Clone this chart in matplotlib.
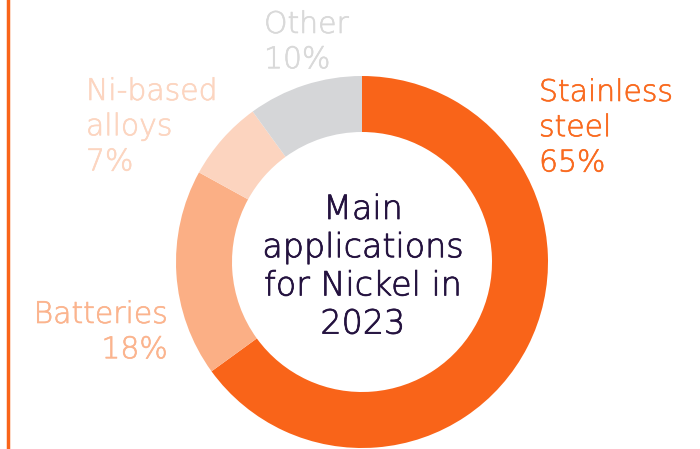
import matplotlib
matplotlib.use("Agg")
import matplotlib.pyplot as plt
import matplotlib.patheffects as pe
from matplotlib.lines import Line2D

categories = ["Stainless\nsteel", "Batteries", "Ni-based\nalloys", "Other"]
values = [65, 18, 7, 10]
colors = ["#F96419", "#FBAF85", "#FCD4BF", "#D5D6D8"]
label_colors = ["#F96A1F", "#FBB48E", "#FCD5C0", "#D9D9D9"]
center_title = "Main\napplications\nfor Nickel in\n2023"

W, H = 700, 449
fig = plt.figure(figsize=(7, 4.49), dpi=100)
ax = fig.add_axes([0, 0, 1, 1])

cx, cy, r = 362, H - 262, 186
ax.pie(values, colors=colors, startangle=90, counterclock=False,
       center=(cx, cy), radius=r, wedgeprops=dict(width=56, linewidth=0),
       frame=True)
ax.set_xlim(0, W)
ax.set_ylim(0, H)
ax.set_aspect("equal")
ax.axis("off")

fam = ["DejaVu Sans"]
fs = 21.5
ls = 1.27
fw = "light"

def y(v):
    return H - v

def thick(c, w=0.45):
    return [pe.withStroke(linewidth=w, foreground=c)]

ax.text(539, y(78), f"{categories[0]}\n{values[0]}%", color=label_colors[0],
        fontsize=fs, family=fam, fontweight=fw, ha="left", va="top", linespacing=ls,
        path_effects=thick(label_colors[0]))
ax.text(168, y(300), f"{categories[1]}\n{values[1]}%", color=label_colors[1],
        fontsize=fs, family=fam, fontweight=fw, ha="right", va="top",
        linespacing=ls, multialignment="right", path_effects=thick(label_colors[1]))
ax.text(86, y(77), f"{categories[2]}\n{values[2]}%", color=label_colors[2],
        fontsize=fs, family=fam, fontweight=fw, ha="left", va="top", linespacing=ls,
        path_effects=thick(label_colors[2]))
ax.text(264, y(10), f"{categories[3]}\n{values[3]}%", color=label_colors[3],
        fontsize=fs, family=fam, fontweight=fw, ha="left", va="top", linespacing=ls,
        path_effects=thick(label_colors[3]))

ax.text(cx + 1, y(193), center_title, color="#24123F", fontsize=24, family=fam,
        fontweight=fw, ha="center", va="top", linespacing=1.2,
        multialignment="center", path_effects=thick("#24123F", 0.55))

fig.add_artist(Line2D([8 / W, 8 / W], [0, 1], color="#F96419", linewidth=2.5,
                      transform=fig.transFigure))

fig.savefig("out.png", dpi=100)
